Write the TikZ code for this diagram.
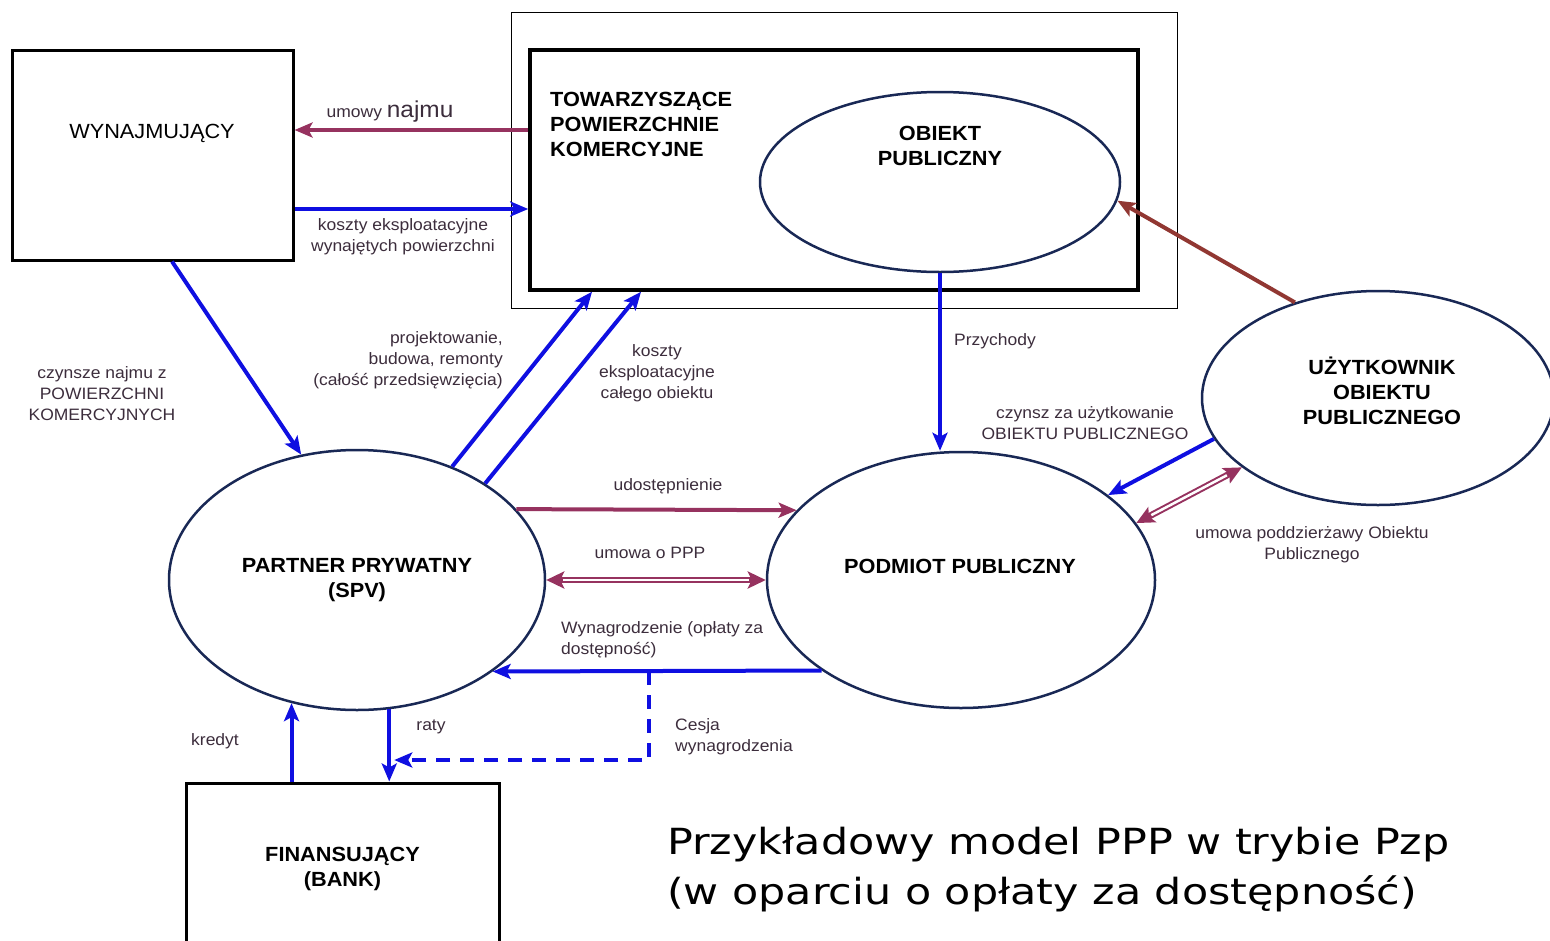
\documentclass[tikz,border=0pt]{standalone}
\usepackage{fontspec}
\setmainfont{Liberation Sans}[FakeStretch=1.06]
\newfontfamily\capfont{DejaVu Sans}[FakeStretch=1.19]
\usetikzlibrary{arrows.meta,shapes.geometric,calc}
\definecolor{flow}{RGB}{15,15,225}
\definecolor{deal}{RGB}{150,50,95}
\definecolor{rust}{RGB}{145,55,50}
\definecolor{rim}{RGB}{25,40,85}
\definecolor{notegray}{RGB}{60,45,60}
\tikzset{
  every node/.style={
    text=black
  },
  party/.style={ellipse, draw=rim, line width=2.5pt, inner sep=0pt},
  block/.style={rectangle, draw=black, line width=3pt, inner sep=0pt},
  title/.style={font=\fontsize{20.5}{25}\selectfont\bfseries, align=center, inner sep=0pt},
  note/.style={text=notegray, font=\fontsize{16.5}{21}\selectfont, align=center, inner sep=0pt},
  money/.style={draw=flow, line width=4pt, -{Stealth[length=18pt,width=15pt,inset=4pt]}},
  pact/.style={draw=deal, line width=4pt, -{Stealth[length=18pt,width=15pt,inset=4pt]}},
  rustline/.style={draw=rust, line width=4pt, -{Stealth[length=18pt,width=15pt,inset=4pt]}},
  twoway/.style={draw=deal, line width=6.5pt,
    {Stealth[length=18pt,width=17pt,inset=4pt]}-{Stealth[length=18pt,width=17pt,inset=4pt]},
    postaction={draw=white, line width=2.5pt, arrows=-, shorten <=17pt, shorten >=17pt}}
}

\begin{document}
\begin{tikzpicture}[x=1pt,y=-1pt]
    \useasboundingbox (0,0) rectangle (1550,940);
    \clip (0,0) rectangle (1550,940);
    % boxes
    \node[block, minimum width=281, minimum height=210] (wyn) at (152.5,155) {};
    \node[font=\fontsize{20.5}{24}\selectfont] (wyntxt) at (152,133) {WYNAJMUJĄCY};
    \node[draw=black, line width=1pt, minimum width=666, minimum height=296] (site) at (844,160) {};
    \node[block, line width=3.5pt, minimum width=608, minimum height=240] (pow) at (834,170) {};
    \node[title, align=left, anchor=west] (powtxt) at (550,124) {TOWARZYSZĄCE\\POWIERZCHNIE\\KOMERCYJNE};
    \node[block, title, minimum width=313, minimum height=172] (fin) at (342.5,869) {FINANSUJĄCY\\(BANK)};
    % ellipses
    \node[party, minimum width=360, minimum height=180] (obiekt) at (940,182) {};
    \node[title] (obiekttxt) at (940,146) {OBIEKT\\PUBLICZNY};
    \node[party, title, minimum width=376, minimum height=260] (spv) at (357,580) {PARTNER PRYWATNY\\(SPV)};
    \node[party, minimum width=388, minimum height=256] (pp) at (961,580) {};
    \node[title] (pptxt) at (960,566) {PODMIOT PUBLICZNY};
    \node[party, minimum width=352, minimum height=214] (uzyt) at (1378,398) {};
    \node[title] (uzyttxt) at (1382,391) {UŻYTKOWNIK\\OBIEKTU\\PUBLICZNEGO};

    % flows
    \draw[pact] (pow.west |- 0,130) -- (wyn.east |- 0,130);
    \draw[money] (wyn.east |- 0,209) -- (pow.west |- 0,209);
    \draw[money] (wyn.south -| 172,0) -- (spv.114);
    \draw[money] (spv.50) -- (pow.south -| 592,0);
    \draw[money] (spv.37) -- (pow.south -| 641,0);
    \draw[money] (obiekt.south) -- (obiekt.south |- pp.north);
    \draw[rustline] (uzyt.131) -- (obiekt.-6);
    \draw[money] (uzyt.194) -- (pp.30);
    \draw[twoway] (pp.18) -- (uzyt.207);
    \draw[pact] (spv.24) -- (pp.157);
    \draw[twoway] (spv.east) -- (pp.west);
    \draw[money] (pp.213) -- (spv.-34);
    \coordinate (ces) at ($(spv.-34)!0.476!(pp.213)$);
    \coordinate (cesend) at ($(spv.-76 |- 0,760)+(5,0)$);
    \draw[money, dash pattern=on 14pt off 10pt] (ces) |- (cesend);
    \draw[money] (spv.242 |- fin.north) -- (spv.242);
    \draw[money] (spv.-76) -- (spv.-76 |- fin.north);

    % labels
    \node[note] (najlab) at (390,112) {umowy {\fontsize{23}{23}\selectfont najmu}};
    \node[note] (koszlab) at (403,237) {koszty eksploatacyjne\\wynajętych powierzchni};
    \node[note] (czynlab) at (102,394) {czynsze najmu z\\POWIERZCHNI\\KOMERCYJNYCH};
    \node[note, align=right, anchor=east] (projlab) at (503,360) {projektowanie,\\budowa, remonty\\(całość przedsięwzięcia)};
    \node[note] (eksplab) at (657,373) {koszty\\eksploatacyjne\\całego obiektu};
    \node[note] (przlab) at (995,341) {Przychody};
    \node[note] (uzlab) at (1085,423) {czynsz za użytkowanie\\OBIEKTU PUBLICZNEGO};
    \node[note] (podlab) at (1312,545) {umowa poddzierżawy Obiektu\\Publicznego};
    \node[note] (udolab) at (668,486) {udostępnienie};
    \node[note] (ppplab) at (650,553) {umowa o PPP};
    \node[note, align=left, anchor=west] (wynlab) at (561,640) {Wynagrodzenie (opłaty za\\dostępność)};
    \node[note, align=left, anchor=west] (ceslab) at (675,737) {Cesja\\wynagrodzenia};
    \node[note] (krelab) at (215,741) {kredyt};
    \node[note] (ratlab) at (431,727) {raty};

    \node[font=\capfont\fontsize{36}{50}\selectfont, align=left, anchor=west, inner sep=0pt] (cap) at (667,870)
      {Przykładowy model PPP w trybie Pzp\\(w oparciu o opłaty za dostępność)};
\end{tikzpicture}
\end{document}
